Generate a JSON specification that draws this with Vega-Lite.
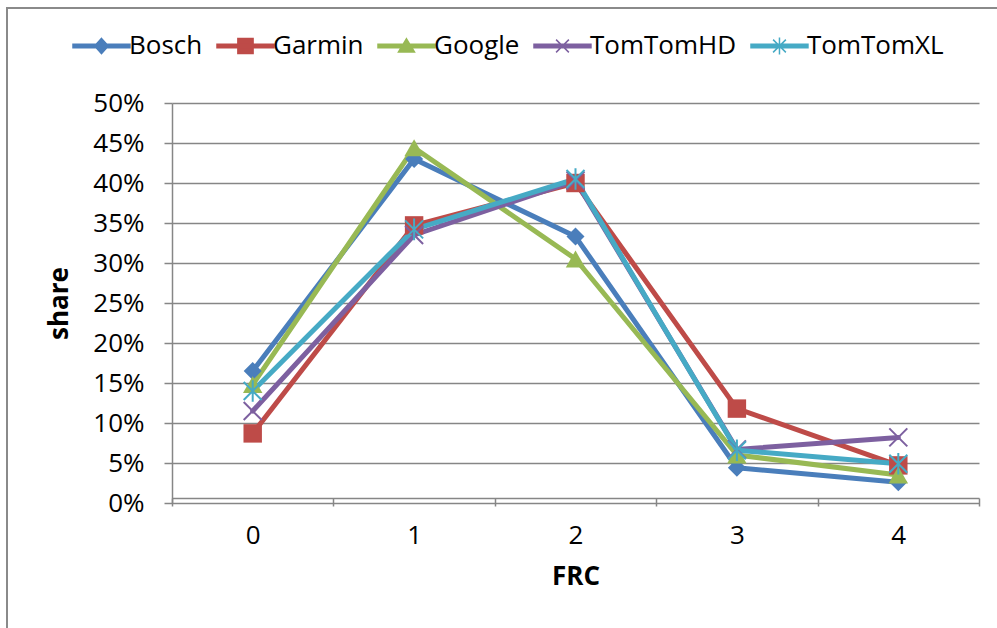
{
  "$schema": "https://vega.github.io/schema/vega-lite/v6.json",
  "width": 990,
  "height": 620,
  "autosize": {"type": "none"},
  "padding": {"left": 7, "top": 8, "right": 0, "bottom": 0},
  "background": "white",
  "config": {
    "font": "Open Sans",
    "view": {"stroke": "#8a8a8a", "strokeWidth": 2, "strokeDash": [990, 1610, 620, 10]}
  },
  "data": {
    "values": [
      {"FRC": "0", "series": "Bosch", "share": 0.165},
      {"FRC": "1", "series": "Bosch", "share": 0.43},
      {"FRC": "2", "series": "Bosch", "share": 0.333},
      {"FRC": "3", "series": "Bosch", "share": 0.044},
      {"FRC": "4", "series": "Bosch", "share": 0.026},
      {"FRC": "0", "series": "Garmin", "share": 0.087},
      {"FRC": "1", "series": "Garmin", "share": 0.347},
      {"FRC": "2", "series": "Garmin", "share": 0.4},
      {"FRC": "3", "series": "Garmin", "share": 0.118},
      {"FRC": "4", "series": "Garmin", "share": 0.047},
      {"FRC": "0", "series": "Google", "share": 0.148},
      {"FRC": "1", "series": "Google", "share": 0.444},
      {"FRC": "2", "series": "Google", "share": 0.305},
      {"FRC": "3", "series": "Google", "share": 0.06},
      {"FRC": "4", "series": "Google", "share": 0.035},
      {"FRC": "0", "series": "TomTomHD", "share": 0.115},
      {"FRC": "1", "series": "TomTomHD", "share": 0.335},
      {"FRC": "2", "series": "TomTomHD", "share": 0.403},
      {"FRC": "3", "series": "TomTomHD", "share": 0.067},
      {"FRC": "4", "series": "TomTomHD", "share": 0.082},
      {"FRC": "0", "series": "TomTomXL", "share": 0.14},
      {"FRC": "1", "series": "TomTomXL", "share": 0.342},
      {"FRC": "2", "series": "TomTomXL", "share": 0.405},
      {"FRC": "3", "series": "TomTomXL", "share": 0.066},
      {"FRC": "4", "series": "TomTomXL", "share": 0.049}
    ]
  },
  "encoding": {
    "x": {
      "field": "FRC",
      "type": "ordinal",
      "scale": {"type": "band", "paddingInner": 0, "paddingOuter": 0, "range": [165, 972]},
      "axis": {
        "offset": -130,
        "labelAngle": 0,
        "labelFontSize": 26,
        "labelColor": "#000000",
        "labelPadding": 16,
        "tickSize": 8,
        "tickBand": "extent",
        "tickColor": "#868686",
        "tickWidth": 1.5,
        "domainColor": "#868686",
        "domainWidth": 1.5,
        "grid": false,
        "title": "FRC",
        "titleFontSize": 26,
        "titleFontWeight": "bold",
        "titleColor": "#000000",
        "titleY": 86,
        "titleBaseline": "alphabetic"
      }
    },
    "y": {
      "field": "share",
      "type": "quantitative",
      "scale": {"domain": [0, 0.5], "nice": false, "range": [495, 95]},
      "axis": {
        "offset": -165,
        "values": [0, 0.05, 0.1, 0.15, 0.2, 0.25, 0.3, 0.35, 0.4, 0.45, 0.5],
        "format": ".0%",
        "labelFontSize": 26,
        "labelColor": "#000000",
        "labelPadding": 20,
        "tickSize": 8,
        "tickColor": "#868686",
        "tickWidth": 1.5,
        "domainColor": "#868686",
        "domainWidth": 1.5,
        "grid": true,
        "gridColor": "#868686",
        "gridWidth": 1.5,
        "title": "share",
        "titleFontSize": 26,
        "titleFontWeight": "bold",
        "titleColor": "#000000",
        "titleX": -105,
        "titleY": 295,
        "titleAngle": -90,
        "titleBaseline": "alphabetic",
        "titleAlign": "center"
      }
    },
    "color": {
      "field": "series",
      "type": "nominal",
      "scale": {
        "domain": ["Bosch", "Garmin", "Google", "TomTomHD", "TomTomXL"],
        "range": ["#4A7EBB", "#BE4B48", "#98B954", "#7D60A0", "#46AAC5"]
      },
      "legend": {
        "orient": "none",
        "legendX": 61,
        "legendY": 25,
        "direction": "horizontal",
        "columns": 5,
        "title": null,
        "padding": 0,
        "labelFont": "Open Sans",
        "labelFontSize": 26,
        "labelColor": "#000000",
        "labelOffset": 35,
        "columnPadding": 9,
        "symbolSize": 256,
        "encode": {
          "symbols": {
            "update": {
              "shape": {"signal": "datum.value === 'Bosch' ? 'M-1,-0.22H6.12V0.22H-1ZM2.56,-0.95L3.41,0L2.56,0.95L1.71,0Z' : datum.value === 'Garmin' ? 'M-1,-0.22H6.12V0.22H-1ZM1.61,-0.95H3.51V0.95H1.61Z' : datum.value === 'Google' ? 'M-1,-0.22H6.12V0.22H-1ZM2.56,-0.9L3.56,0.75L1.56,0.75Z' : datum.value === 'TomTomHD' ? 'M-1,-0.22H6.12V0.22H-1ZM1.76,-0.8L3.36,0.8M1.76,0.8L3.36,-0.8' : 'M-1,-0.22H6.12V0.22H-1ZM1.76,-0.8L3.36,0.8M1.76,0.8L3.36,-0.8M2.56,-1.05L2.56,1.05'"},
              "fill": {"scale": "color", "field": "value"},
              "stroke": {"scale": "color", "field": "value"},
              "strokeWidth": {"value": 1.5},
              "strokeDash": {"value": []},
              "opacity": {"value": 1}
            }
          }
        }
      }
    }
  },
  "layer": [
    {
      "mark": {"type": "line", "strokeWidth": 5, "strokeJoin": "round", "strokeCap": "round"}
    },
    {
      "transform": [{"filter": "datum.series === 'Bosch'"}],
      "mark": {"type": "point", "shape": "diamond", "filled": true, "opacity": 1, "size": 324, "strokeWidth": 0}
    },
    {
      "transform": [{"filter": "datum.series === 'Garmin'"}],
      "mark": {"type": "point", "shape": "square", "filled": true, "opacity": 1, "size": 340, "strokeWidth": 0}
    },
    {
      "transform": [{"filter": "datum.series === 'Google'"}],
      "mark": {"type": "point", "shape": "triangle-up", "filled": true, "opacity": 1, "size": 380, "strokeWidth": 0}
    },
    {
      "transform": [{"filter": "datum.series === 'TomTomHD'"}],
      "mark": {"type": "point", "shape": "M-1,-1L1,1M-1,1L1,-1", "filled": false, "opacity": 1, "size": 324, "strokeWidth": 2}
    },
    {
      "transform": [{"filter": "datum.series === 'TomTomXL'"}],
      "mark": {"type": "point", "shape": "M-1,-1L1,1M-1,1L1,-1M0,-1.2L0,1.2", "filled": false, "opacity": 1, "size": 324, "strokeWidth": 2}
    }
  ]
}
